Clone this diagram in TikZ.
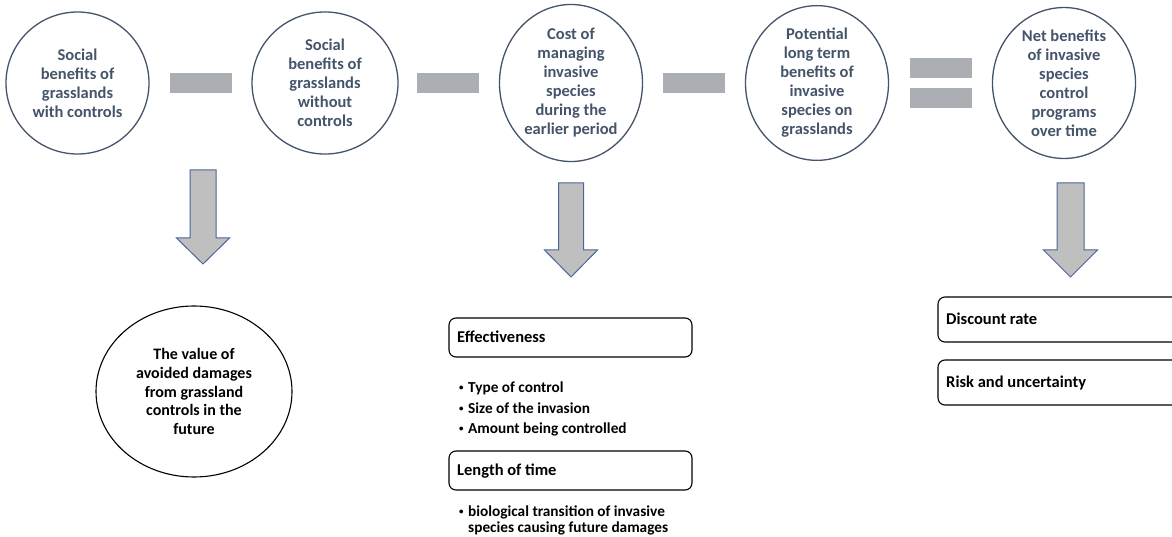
\documentclass[tikz,border=0pt]{standalone}
\usepackage{fontspec}
\setmainfont{Carlito}
\usetikzlibrary{shapes.geometric}
\definecolor{txt}{HTML}{44546A}
\definecolor{barc}{HTML}{ABAEB3}
\definecolor{arrfill}{HTML}{BFBFBF}
\definecolor{arrline}{HTML}{4A6797}
\newcommand\smallbul{\makebox[9pt][l]{\fontsize{9}{9}\selectfont\raisebox{2pt}{•}}}
\begin{document}
\begin{tikzpicture}[x=1pt,y=-1pt,
  circ/.style={ellipse, draw=txt, line width=1.3pt, minimum width=143pt, minimum height=142pt, inner sep=0pt,
    text=txt, align=center, font=\fontsize{16.5}{19}\selectfont\bfseries},
  opbar/.style={fill=barc, draw=none, minimum width=62pt, minimum height=20pt, inner sep=0pt},
  bigell/.style={ellipse, draw=black, line width=1.1pt, minimum width=196pt, minimum height=171pt, inner sep=0pt,
    align=center, font=\fontsize{16}{18.7}\selectfont\bfseries},
  rbox/.style={draw=black, line width=1.1pt, rounded corners=7pt, inner sep=0pt},
  boxtxt/.style={anchor=west, inner sep=0pt, text height=11pt, text depth=3pt, font=\fontsize{16.5}{19}\selectfont\bfseries},
  item/.style={anchor=west, inner sep=0pt, text height=10.5pt, text depth=3pt, font=\fontsize{15.3}{17}\selectfont\bfseries},
  blockarrow/.style={fill=arrfill, draw=arrline, line width=1pt, line join=miter}
]
\useasboundingbox (0,0) rectangle (1172,537);
\fill[white] (0,0) rectangle (1172,537);

% top row circles
\node[circ] (c1) at (77.5,83) {Social\\benefits of\\grasslands\\with controls};
\node[circ, minimum width=146pt] (c2) at (325,83) {Social\\benefits of\\grasslands\\without\\controls};
\node[circ, minimum height=157pt] (c3) at (571,83) {Cost of\\managing\\invasive\\species\\during the\\earlier period};
\node[circ] (c4) at (817,83) {Potential\\long term\\benefits of\\invasive\\species on\\grasslands};
\node[circ] (c5) at (1064,83) {Net benefits\\of invasive\\species\\control\\programs\\over time};

% operators
\node[opbar] (m1) at (201,83) {};
\node[opbar] (m2) at (447.5,83) {};
\node[opbar] (m3) at (693.5,83) {};
\node[opbar] (e1) at (940.5,68) {};
\node[opbar] (e2) at (940.5,98) {};

% block arrows
\coordinate (a1) at (203,170);
\coordinate (a2) at (571,183);
\coordinate (a3) at (1070.5,183);
\draw[blockarrow] (a1) ++(-13,0) -- ++(26,0) -- ++(0,68) -- ++(13.5,0) -- ++(-26.5,26) -- ++(-26.5,-26) -- ++(13.5,0) -- cycle;
\draw[blockarrow] (a2) ++(-12.5,0) -- ++(25,0) -- ++(0,67) -- ++(14,0) -- ++(-26.5,27) -- ++(-26.5,-27) -- ++(14,0) -- cycle;
\draw[blockarrow] (a3) ++(-13.5,0) -- ++(27,0) -- ++(0,67) -- ++(13.5,0) -- ++(-27,27) -- ++(-27,-27) -- ++(13.5,0) -- cycle;

% bottom left ellipse
\node[bigell] (v) at (194,391.5) {The value of\\avoided damages\\from grassland\\controls in the\\future};

% middle boxes
\draw[rbox] (449,318) rectangle (692,357);
\node[boxtxt] (eff) at (457,338) {Effectiveness};
\node[item] (i1) at (459,388.5) {\smallbul Type of control};
\node[item] (i2) at (459,409.5) {\smallbul Size of the invasion};
\node[item] (i3) at (459,429.5) {\smallbul Amount being controlled};
\draw[rbox] (449,451) rectangle (692,490);
\node[boxtxt] (len) at (457,471) {Length of time};
\node[item] (i4) at (459,513) {\smallbul biological transition of invasive};
\node[item] (i5) at (468,529) {species causing future damages};

% right boxes
\draw[rbox] (938,297) rectangle (1185,342);
\node[boxtxt] (dr) at (946,320) {Discount rate};
\draw[rbox] (938,360) rectangle (1185,405);
\node[boxtxt] (ru) at (946,383) {Risk and uncertainty};
\end{tikzpicture}
\end{document}
